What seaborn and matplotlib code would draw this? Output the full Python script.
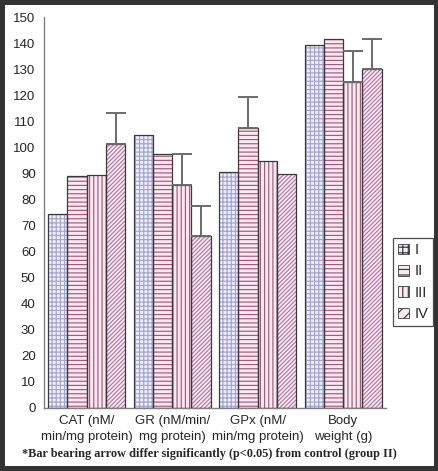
import numpy as np
import pandas as pd
import matplotlib
matplotlib.use('Agg')
import matplotlib.pyplot as plt
from matplotlib.patches import Patch, Rectangle
import seaborn as sns

# --- Data ---
categories = ['CAT (nM/\nmin/mg protein)', 'GR (nM/min/\nmg protein)',
              'GPx (nM/\nmin/mg protein)', 'Body\nweight (g)']
groups = ['I', 'II', 'III', 'IV']

group_I = [74.6, 104.8, 90.4, 139.1]
group_II = [89.1, 97.4, 107.4, 141.4]
group_III = [89.4, 85.4, 94.9, 124.9]
group_IV = [101.2, 65.8, 89.7, 130.0]

# upward error bars only (0 = none drawn)
err_I = [0, 0, 0, 0]
err_II = [0, 0, 12.0, 0]
err_III = [0, 12.0, 0, 12.2]
err_IV = [12.0, 11.5, 0, 11.6]

fill_colors = {'I': '#eeeefa', 'II': '#f9e9f1', 'III': '#f9e9f1', 'IV': '#f9e9f1'}
hatch_colors = {'I': '#a4a4d0', 'II': '#a8587c', 'III': '#a8587c', 'IV': '#b07aa4'}
hatches = {'I': '++++', 'II': '----', 'III': '||||', 'IV': '////////'}

values = [group_I, group_II, group_III, group_IV]
errors = [err_I, err_II, err_III, err_IV]

df = pd.DataFrame({
    'category': categories * len(groups),
    'group': np.repeat(groups, len(categories)),
    'value': np.concatenate(values),
})

sns.set_style('white')
plt.rcParams['font.family'] = ['Liberation Sans', 'DejaVu Sans']
plt.rcParams['hatch.linewidth'] = 0.85

fig = plt.figure(figsize=(4.39, 4.71), dpi=100, facecolor='white',
                 edgecolor='#333333', linewidth=6)
ax = fig.add_axes([0.1002, 0.1338, 0.7788, 0.8301])

sns.barplot(data=df, x='category', y='value', hue='group', order=categories,
            hue_order=groups, palette=fill_colors, width=0.9, saturation=1,
            errorbar=None, legend=False, ax=ax)

for container, grp, errs in zip(ax.containers, groups, errors):
    for bar, e in zip(container.patches, errs):
        bar.set_hatch(hatches[grp])
        bar.set_edgecolor(hatch_colors[grp])
        bar.set_linewidth(0)
        x0, w, h = bar.get_x(), bar.get_width(), bar.get_height()
        ax.add_patch(Rectangle((x0, 0), w, h, fill=False, edgecolor='#3a3a3a',
                               linewidth=0.9, zorder=3))
        if e > 0:
            ax.errorbar(x0 + w / 2, h, yerr=[[0], [e]], fmt='none',
                        ecolor='#6a6a6a', elinewidth=1.4, capsize=7.5,
                        capthick=1.4, zorder=4)

ax.set_ylim(0, 150)
ax.set_xlim(-0.5, 3.5)
ax.set_yticks(range(0, 151, 10))
ax.set_xlabel('')
ax.set_ylabel('')

for side in ['top', 'right']:
    ax.spines[side].set_visible(False)
for side in ['left', 'bottom']:
    ax.spines[side].set_color('#808080')
    ax.spines[side].set_linewidth(1.0)

ax.tick_params(axis='y', which='major', direction='out', length=4, width=1,
               color='#808080', labelsize=9.5, pad=2)
ax.tick_params(axis='x', which='major', length=0, labelsize=9.5, pad=5)
for lbl in ax.get_xticklabels():
    lbl.set_linespacing(1.45)
ax.set_xticks([0.5, 1.5, 2.5, 3.5], minor=True)
ax.tick_params(axis='x', which='minor', direction='out', length=4, width=1,
               color='#808080')

handles = [Patch(facecolor=fill_colors[g], edgecolor=hatch_colors[g],
                 hatch=hatches[g][:3], linewidth=0) for g in groups]
leg = fig.legend(handles, groups, loc='upper left',
                 bbox_to_anchor=(393 / 439, 1 - 238 / 471),
                 frameon=True, fancybox=False, fontsize=10.5,
                 handlelength=0.75, handleheight=0.75, handletextpad=0.35,
                 borderpad=0.35, labelspacing=0.5, borderaxespad=0)
leg.get_frame().set_edgecolor('#222222')
leg.get_frame().set_linewidth(0.9)
for h in leg.legend_handles:
    h.set_edgecolor('#3a3a3a')
    h.set_linewidth(0.6)

fig.text(0.476, 1 - 454 / 471,
         '*Bar bearing arrow differ significantly (p<0.05) from control (group II)',
         ha='center', va='center', fontsize=8.8, fontweight='bold',
         family=['Liberation Serif', 'DejaVu Serif'])

fig.savefig('out.png', dpi=100)
